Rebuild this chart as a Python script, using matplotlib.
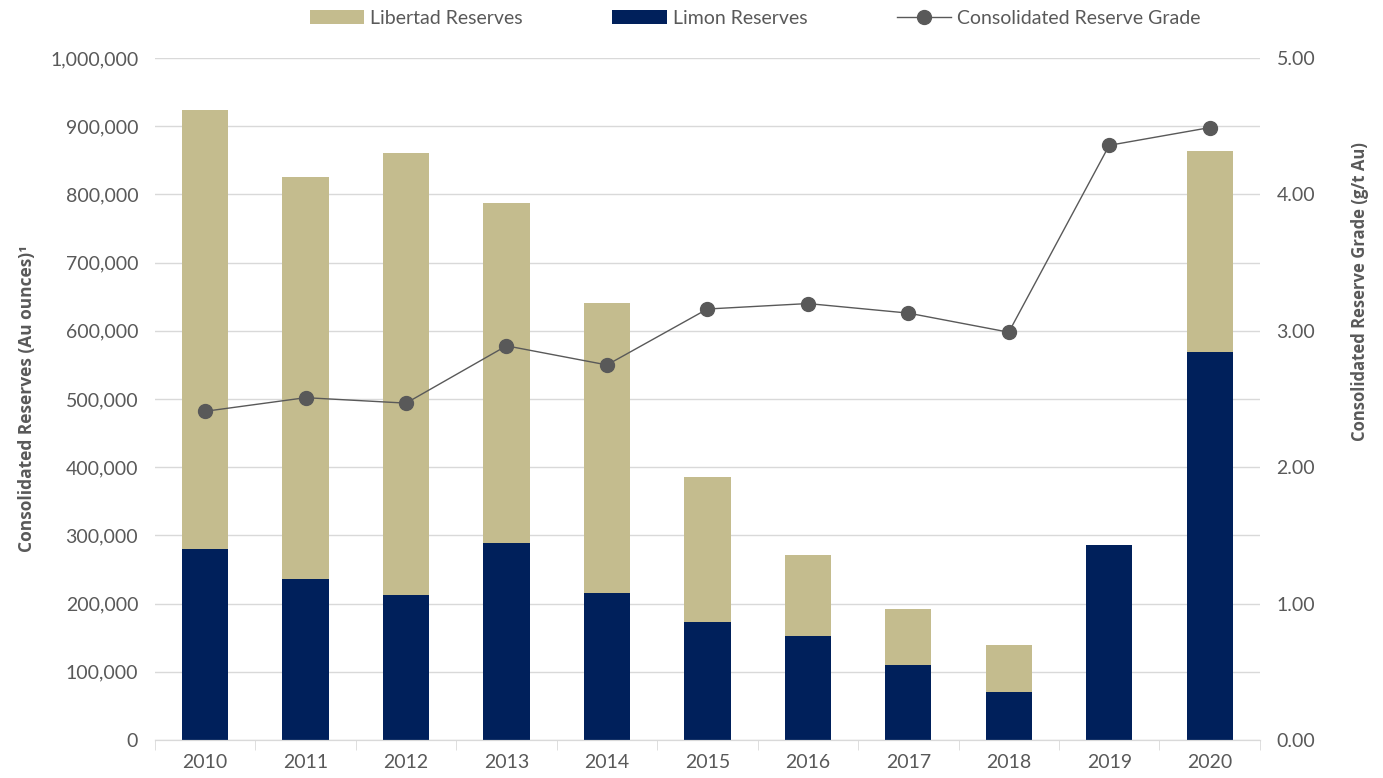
import numpy as np
import matplotlib.pyplot as plt
from matplotlib.ticker import FuncFormatter, MultipleLocator

years = ["2010", "2011", "2012", "2013", "2014", "2015", "2016", "2017", "2018", "2019", "2020"]
limon = [280000, 236000, 213000, 289000, 216000, 173000, 152000, 110000, 70000, 286000, 569000]
libertad = [644000, 589000, 648000, 498000, 425000, 213000, 119000, 82000, 69000, 0, 295000]
grade = [2.41, 2.51, 2.47, 2.89, 2.75, 3.16, 3.20, 3.13, 2.99, 4.36, 4.49]

plt.rcParams['font.family'] = ['Lato', 'DejaVu Sans']
grey = "#595959"

fig = plt.figure(figsize=(13.83, 7.78), dpi=100)
ax = fig.add_axes([0.112, 0.0488, 0.799, 0.8766])
ax2 = ax.twinx()

x = np.arange(len(years))
ax.bar(x, limon, width=0.46, color="#00205B", label="Limon Reserves", zorder=2)
ax.bar(x, libertad, width=0.46, bottom=limon, color="#C4BC8E", label="Libertad Reserves", zorder=2)

ax2.plot(x, grade, color=grey, lw=1, marker="o", markersize=10,
         markerfacecolor=grey, markeredgecolor=grey, label="Consolidated Reserve Grade")

ax.set_xlim(-0.5, len(years) - 0.5)
ax.set_ylim(0, 1000000)
ax2.set_ylim(0, 5)
ax.yaxis.set_major_locator(MultipleLocator(100000))
ax2.yaxis.set_major_locator(MultipleLocator(1))
ax.yaxis.set_major_formatter(FuncFormatter(lambda v, p: f"{v:,.0f}"))
ax2.yaxis.set_major_formatter(FuncFormatter(lambda v, p: f"{v:.2f}"))

ax.grid(axis="y", color="#D9D9D9", lw=1, zorder=0)
ax.set_axisbelow(True)

for a in (ax, ax2):
    for s in ("top", "left", "right"):
        a.spines[s].set_visible(False)
    a.spines["bottom"].set_color("#D9D9D9")
    a.tick_params(axis="y", length=0, colors=grey, labelsize=14, pad=12)

ax.set_xticks(x)
ax.set_xticklabels(years)
ax.tick_params(axis="x", length=0, colors=grey, labelsize=14, pad=10)
ax.set_xticks(np.arange(-0.5, len(years)), minor=True)
ax.tick_params(axis="x", which="minor", length=7, color="#D9D9D9")

lab_font = dict(color=grey, fontweight="bold", family=["Open Sans", "DejaVu Sans"])
ax.set_ylabel("Consolidated Reserves (Au ounces)\u00b9", labelpad=10, fontsize=12.5, **lab_font)
ax2.set_ylabel("Consolidated Reserve Grade (g/t Au)", labelpad=26, fontsize=12, **lab_font)
ax2.yaxis.label.set_y(0.657)

h1, l1 = ax.get_legend_handles_labels()
h2, l2 = ax2.get_legend_handles_labels()
handles = [h1[1], h1[0], h2[0]]
labels = [l1[1], l1[0], l2[0]]
fig.legend(handles, labels, loc="upper center", bbox_to_anchor=(0.546, 1.01), ncol=3,
           frameon=False, fontsize=14, labelcolor=grey, columnspacing=4.6,
           handlelength=2.8, handletextpad=0.3)

fig.savefig("out.png", dpi=100)
